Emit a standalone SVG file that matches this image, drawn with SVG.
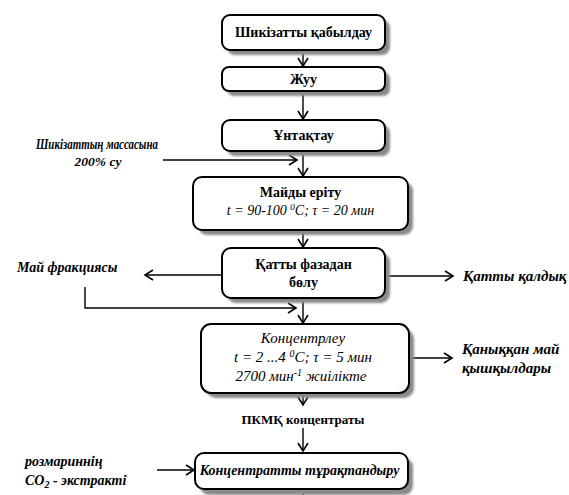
<svg xmlns="http://www.w3.org/2000/svg" width="569" height="495" viewBox="0 0 569 495" font-family="Liberation Serif, serif">
<defs>
<marker id="ah" markerWidth="12" markerHeight="12" refX="10" refY="6" orient="auto" markerUnits="userSpaceOnUse">
<polyline points="2,1 10,6 2,11" fill="none" stroke="#000" stroke-width="1.6"/>
</marker>
<filter id="blur" x="-10%" y="-10%" width="120%" height="130%"><feGaussianBlur stdDeviation="1.2"/></filter>
</defs>
<style>
.box{fill:#fff;stroke:#000;stroke-width:2}
.sh{fill:#8a8a8a;filter:url(#blur)}
.ln{fill:none;stroke:#000;stroke-width:1.4}
.b{font-weight:bold}
.i{font-style:italic}
</style>
<rect width="569" height="495" fill="#fff"/>

<g id="connectors">
<line class="ln" x1="303" y1="51" x2="303" y2="66" marker-end="url(#ah)"/>
<line class="ln" x1="303" y1="91" x2="303" y2="119" marker-end="url(#ah)"/>
<line class="ln" x1="303" y1="151" x2="303" y2="176" marker-end="url(#ah)"/>
<line class="ln" x1="163" y1="160" x2="297" y2="160" marker-end="url(#ah)"/>
<line class="ln" x1="303" y1="231" x2="303" y2="247" marker-end="url(#ah)"/>
<line class="ln" x1="222" y1="275" x2="145" y2="275" marker-end="url(#ah)"/>
<line class="ln" x1="385" y1="276" x2="453" y2="276" marker-end="url(#ah)"/>
<polyline class="ln" points="85,287 85,308 296,308" marker-end="url(#ah)"/>
<line class="ln" x1="303" y1="299" x2="303" y2="323" marker-end="url(#ah)"/>
<line class="ln" x1="408" y1="358" x2="452" y2="358" marker-end="url(#ah)"/>
<line class="ln" x1="303" y1="394" x2="303" y2="405" marker-end="url(#ah)"/>
<line class="ln" x1="303" y1="428" x2="303" y2="451" marker-end="url(#ah)"/>
<line class="ln" x1="157" y1="470" x2="194" y2="470" marker-end="url(#ah)"/>
<line class="ln" x1="303" y1="489" x2="303" y2="495"/>
</g>

<g id="n1" font-family="Liberation Serif, serif" font-size="14" text-anchor="middle">
<rect class="sh" x="227" y="20" width="163" height="35" rx="8"/>
<rect class="box" x="222" y="15" width="163" height="35" rx="8"/>
<text class="b" x="303.5" y="37">Шикізатты қабылдау</text>
</g>
<g id="n2" font-family="Liberation Serif, serif" font-size="14" text-anchor="middle">
<rect class="sh" x="227" y="72" width="163" height="24" rx="7"/>
<rect class="box" x="222" y="67" width="163" height="24" rx="7"/>
<text class="b" x="303.5" y="84">Жуу</text>
</g>
<g id="n3" font-family="Liberation Serif, serif" font-size="14" text-anchor="middle">
<rect class="sh" x="227" y="125" width="163" height="31" rx="8"/>
<rect class="box" x="222" y="120" width="163" height="31" rx="8"/>
<text class="b" x="303.5" y="140">Ұнтақтау</text>
</g>
<g id="n4" font-family="Liberation Serif, serif" font-size="14" text-anchor="middle">
<rect class="sh" x="198" y="182" width="215" height="53" rx="9"/>
<rect class="box" x="193" y="177" width="215" height="53" rx="9"/>
<text class="b" x="300.5" y="197">Майды еріту</text>
<text class="i" x="300.5" y="215">t = 90-100 <tspan font-size="9" dy="-5">0</tspan><tspan dy="5">C; τ = 20 мин</tspan></text>
</g>
<g id="n5" font-family="Liberation Serif, serif" font-size="14" text-anchor="middle">
<rect class="sh" x="227" y="253" width="163" height="50" rx="9"/>
<rect class="box" x="222" y="248" width="163" height="50" rx="9"/>
<text class="b" x="303.5" y="269">Қатты фазадан</text>
<text class="b" x="303.5" y="287">бөлу</text>
</g>
<g id="n6" font-family="Liberation Serif, serif" font-size="15" text-anchor="middle">
<rect class="sh" x="206" y="329" width="208" height="69" rx="10"/>
<rect class="box" x="201" y="324" width="208" height="69" rx="10"/>
<text class="i" x="303" y="343">Концентрлеу</text>
<text class="i" x="303" y="362">t = 2 ...4 <tspan font-size="10" dy="-5">0</tspan><tspan dy="5">C; τ = 5 мин</tspan></text>
<text class="i" x="301" y="381">2700 мин<tspan font-size="10" dy="-5">-1</tspan><tspan dy="5"> жиілікте</tspan></text>
</g>
<g id="n7" font-family="Liberation Serif, serif" font-size="14" text-anchor="middle">
<rect class="sh" x="200" y="458" width="213" height="37" rx="9"/>
<rect class="box" x="195" y="453" width="213" height="36" rx="9"/>
<text class="b i" x="299.5" y="475">Концентратты тұрақтандыру</text>
</g>

<g id="labels" font-family="Liberation Serif, serif" font-size="14">
<text class="b i" x="36" y="149" font-size="14" textLength="122" lengthAdjust="spacingAndGlyphs">Шикізаттың массасына</text>
<text class="b i" x="98" y="166" font-size="13.5" text-anchor="middle">200% су</text>
<text class="b i" x="17" y="272">Май фракциясы</text>
<text class="b i" x="463" y="281" font-size="15">Қатты қалдық</text>
<text class="b i" x="462" y="354" font-size="15">Қаныққан май</text>
<text class="b i" x="462" y="373" font-size="15">қышқылдары</text>
<text class="b" x="303" y="424" font-size="13" text-anchor="middle">ПКМҚ концентраты</text>
<text class="b i" x="25" y="466">розмариннің</text>
<text class="b i" x="25" y="485">CO<tspan font-size="10" dy="3">2</tspan><tspan dy="-3"> - экстракті</tspan></text>
</g>
</svg>
